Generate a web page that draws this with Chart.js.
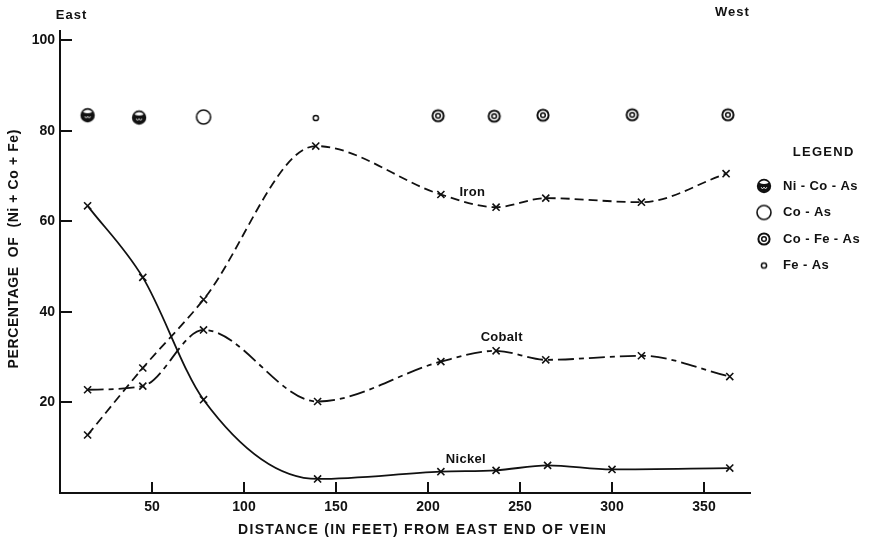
<!DOCTYPE html>
<html>
<head>
<meta charset="utf-8">
<script src="https://cdn.jsdelivr.net/npm/chart.js@4.4.1/dist/chart.umd.min.js"></script>
<style>
    html, body { margin: 0; padding: 0; background: #fff; }
    #wrap { width: 871px; height: 542px; }
</style>
</head>
<body>
<div id="wrap"><canvas id="grafico" width="871" height="542"></canvas></div>
<script>

// distance from east end of vein (feet) and percentage of (Ni + Co + Fe)
const nickelDist = [15, 45, 78, 140, 207, 237, 265, 300, 364];
const nickelPct = [63.4, 47.6, 20.6, 3.1, 4.7, 5.0, 6.1, 5.2, 5.5];

const ironDist = [15, 45, 78, 139, 207, 237, 264, 316, 362];
const ironPct = [12.8, 27.6, 42.7, 76.6, 65.9, 63.1, 65.1, 64.2, 70.5];

const cobaltDist = [15, 45, 78, 140, 207, 237, 264, 316, 364];
const cobaltPct = [22.8, 23.6, 36.0, 20.2, 29.0, 31.4, 29.4, 30.3, 25.7];

// mineral assemblage found at each sample
const niCoAsDist = [15, 43];
const niCoAsLevel = [83.4, 82.9];
const coAsDist = [78];
const coAsLevel = [83.0];
const coFeAsDist = [205.5, 236, 262.5, 311, 363];
const coFeAsLevel = [83.3, 83.2, 83.4, 83.5, 83.5];
const feAsDist = [139];
const feAsLevel = [82.8];

const xTicks = [50, 100, 150, 200, 250, 300, 350];
const yTicks = [20, 40, 60, 80, 100];

const ink = "#111";
const fam = "'Liberation Sans', Arial, sans-serif";

function pts(xs, ys) {
    return xs.map((v, i) => ({ x: v, y: ys[i] }));
}

function symbolCanvas(draw) {
    const c = document.createElement("canvas");
    c.width = 20;
    c.height = 20;
    const g = c.getContext("2d");
    g.strokeStyle = ink;
    g.fillStyle = ink;
    draw(g, 10, 10);
    return c;
}

const symNiCoAs = symbolCanvas((g, cx, cy) => {
    g.beginPath(); g.arc(cx, cy, 7.2, 0, Math.PI * 2); g.fill();
    g.save();
    g.beginPath(); g.arc(cx, cy, 5.6, 0, Math.PI * 2); g.clip();
    g.fillStyle = "#fff";
    g.beginPath(); g.ellipse(cx, cy - 5.5, 6, 3.6, 0, 0, Math.PI * 2); g.fill();
    g.restore();
    g.strokeStyle = "#fff"; g.lineWidth = 0.8;
    g.beginPath();
    g.moveTo(cx - 3, cy + 1); g.lineTo(cx - 1.5, cy + 3); g.lineTo(cx, cy + 1);
    g.lineTo(cx + 1.5, cy + 3); g.lineTo(cx + 3, cy + 1);
    g.stroke();
});

const symCoAs = symbolCanvas((g, cx, cy) => {
    g.fillStyle = "#fff";
    g.lineWidth = 1.6;
    g.beginPath(); g.arc(cx, cy, 7, 0, Math.PI * 2); g.fill(); g.stroke();
});

const symCoFeAs = symbolCanvas((g, cx, cy) => {
    g.lineWidth = 2;
    g.beginPath(); g.arc(cx, cy, 5.6, 0, Math.PI * 2); g.stroke();
    g.lineWidth = 1.5;
    g.beginPath(); g.arc(cx, cy, 2.3, 0, Math.PI * 2); g.stroke();
});

const symFeAs = symbolCanvas((g, cx, cy) => {
    g.lineWidth = 1.5;
    g.beginPath(); g.arc(cx, cy, 2.6, 0, Math.PI * 2); g.stroke();
});

function curve(label, xs, ys, dash) {
    return {
        label: label,
        data: pts(xs, ys),
        showLine: true,
        borderColor: ink,
        borderWidth: 1.8,
        borderDash: dash,
        cubicInterpolationMode: "monotone",
        pointStyle: "crossRot",
        pointRadius: 5,
        pointBorderWidth: 1.6,
        pointBorderColor: ink,
        pointBackgroundColor: ink
    };
}

function minerals(label, xs, ys, img) {
    return {
        label: label,
        data: pts(xs, ys),
        showLine: false,
        pointStyle: img,
        pointRadius: 8,
        legendSymbol: img
    };
}

const datasets = [
    curve("Nickel", nickelDist, nickelPct, []),
    curve("Iron", ironDist, ironPct, [9, 5]),
    curve("Cobalt", cobaltDist, cobaltPct, [16, 5, 5, 5]),
    minerals("Ni - Co - As", niCoAsDist, niCoAsLevel, symNiCoAs),
    minerals("Co - As", coAsDist, coAsLevel, symCoAs),
    minerals("Co - Fe - As", coFeAsDist, coFeAsLevel, symCoFeAs),
    minerals("Fe - As", feAsDist, feAsLevel, symFeAs)
];

// where the curve names sit, in data units
const curveNotes = [
    { text: "Iron", x: 224, y: 66.4 },
    { text: "Cobalt", x: 240, y: 34.4 },
    { text: "Nickel", x: 220.5, y: 7.5 }
];

function spacedText(ctx, text, x, y, spacing) {
    ctx.letterSpacing = spacing + "px";
    const w = ctx.measureText(text).width - spacing;
    ctx.fillText(text, x - w / 2, y);
    ctx.letterSpacing = "0px";
}

const paperPlugin = {
    id: "paper",
    afterDraw(chart) {

        const ctx = chart.ctx;
        const x = chart.scales.x;
        const y = chart.scales.y;

        ctx.save();

        // inward tick marks
        ctx.strokeStyle = ink;
        ctx.lineWidth = 2;
        ctx.beginPath();
        xTicks.forEach(v => {
            const px = Math.round(x.getPixelForValue(v));
            ctx.moveTo(px, y.bottom);
            ctx.lineTo(px, y.bottom - 11);
        });
        yTicks.forEach(v => {
            const py = Math.round(y.getPixelForValue(v));
            ctx.moveTo(x.left, py);
            ctx.lineTo(x.left + 12, py);
        });
        ctx.stroke();

        ctx.fillStyle = ink;
        ctx.textBaseline = "middle";
        ctx.textAlign = "left";

        ctx.font = "bold 13px " + fam;
        curveNotes.forEach(n => {
            spacedText(ctx, n.text, x.getPixelForValue(n.x), y.getPixelForValue(n.y), 0.3);
        });

        ctx.font = "bold 13px " + fam;
        spacedText(ctx, "East", 71, 15, 1);
        spacedText(ctx, "West", 732, 12, 1);

        // axis titles
        ctx.font = "bold 14px " + fam;
        spacedText(ctx, "DISTANCE (IN FEET) FROM EAST END OF VEIN", 422, 530, 1.3);

        ctx.save();
        ctx.translate(14, 249);
        ctx.rotate(-Math.PI / 2);
        spacedText(ctx, "PERCENTAGE  OF  (Ni + Co + Fe)", 0, 0, 0.6);
        ctx.restore();

        // legend
        ctx.font = "bold 13px " + fam;
        spacedText(ctx, "LEGEND", 823, 152, 1.3);

        let ly = 186;
        chart.data.datasets.forEach(ds => {
            if (!ds.legendSymbol) return;
            ctx.drawImage(ds.legendSymbol, 764 - 10, ly - 10);
            ctx.letterSpacing = "0.4px";
            ctx.fillText(ds.label, 783, ly);
            ctx.letterSpacing = "0px";
            ly += 26.5;
        });

        ctx.restore();
    }
};

new Chart(document.getElementById("grafico"), {
    type: "scatter",
    data: { datasets: datasets },
    options: {
        responsive: false,
        animation: false,
        layout: { padding: { top: 31, right: 121, left: 0, bottom: 0 } },
        plugins: {
            legend: { display: false },
            tooltip: { enabled: false }
        },
        scales: {
            x: {
                type: "linear",
                min: 0,
                max: 375,
                afterFit: s => { s.height = 49; },
                afterBuildTicks: s => { s.ticks = xTicks.map(v => ({ value: v })); },
                grid: { display: false, drawTicks: false },
                border: { display: true, color: ink, width: 2 },
                ticks: {
                    color: ink,
                    padding: 6,
                    maxRotation: 0,
                    font: { family: fam, size: 14, weight: "bold" }
                }
            },
            y: {
                type: "linear",
                min: 0,
                max: 102,
                afterFit: s => { s.width = 60; },
                afterBuildTicks: s => { s.ticks = yTicks.map(v => ({ value: v })); },
                grid: { display: false, drawTicks: false },
                border: { display: true, color: ink, width: 2 },
                ticks: {
                    color: ink,
                    padding: 5,
                    font: { family: fam, size: 14, weight: "bold" }
                }
            }
        }
    },
    plugins: [paperPlugin]
});

</script>
</body>
</html>
